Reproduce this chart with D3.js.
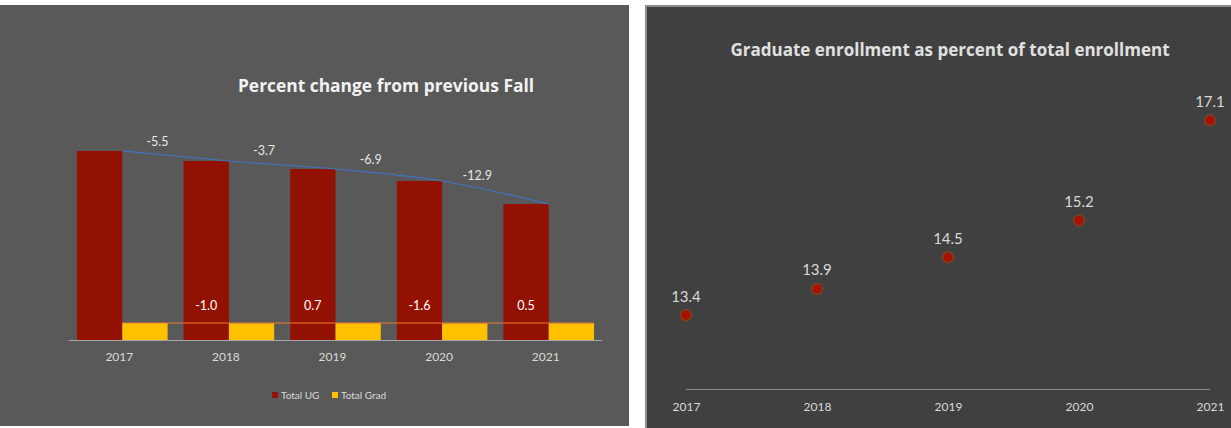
<!DOCTYPE html>
<html><head><meta charset="utf-8">
<script src="https://cdn.jsdelivr.net/npm/d3@7"></script>
<style>html,body{margin:0;padding:0;background:#fff;}svg{display:block;}</style>
</head><body>
<svg id="c" width="1231" height="428"></svg>
<script>
const years = ["2017","2018","2019","2020","2021"];
const ugTotals = [18900, 17900, 17100, 15900, 13600];
const gradTotals = [1700, 1683, 1695, 1668, 1676];
const ugChangeLabels = ["-5.5","-3.7","-6.9","-12.9"];
const gradChangeLabels = ["-1.0","0.7","-1.6","0.5"];
const gradShare = [13.4, 13.9, 14.5, 15.2, 17.1];
const seriesNames = ["Total UG","Total Grad"];

const FONT = "Lato, 'Open Sans', sans-serif";
const TFONT = "'Open Sans', Lato, sans-serif";
const svg = d3.select("#c");

// ---------- Left panel ----------
svg.append("rect").attr("x",0).attr("y",5).attr("width",629).attr("height",421).attr("fill","#595959");
const L = svg.append("g");
L.append("text").attr("x",386).attr("y",92).attr("text-anchor","middle")
  .attr("font-family",TFONT).attr("font-weight","bold").attr("font-size",17.4).attr("fill","#f2f2f2")
  .text("Percent change from previous Fall");

const x0 = d3.scaleBand().domain(years).range([69,602]).paddingInner(0.15).paddingOuter(0.075);
const x1 = d3.scaleBand().domain(seriesNames).range([0,x0.bandwidth()]);
const yL = d3.scaleLinear().domain([0,20000]).range([340,140]);
const colors = {"Total UG":"#931100","Total Grad":"#ffc000"};

const groups = L.selectAll("g.grp").data(years).join("g").attr("transform",d=>`translate(${x0(d)},0)`);
groups.append("rect").attr("x",x1("Total UG")).attr("width",x1.bandwidth())
  .attr("y",(d,i)=>yL(ugTotals[i])).attr("height",(d,i)=>yL(0)-yL(ugTotals[i])).attr("fill",colors["Total UG"]);
groups.append("rect").attr("x",x1("Total Grad")).attr("width",x1.bandwidth())
  .attr("y",(d,i)=>yL(gradTotals[i])).attr("height",(d,i)=>yL(0)-yL(gradTotals[i])).attr("fill",colors["Total Grad"]);

// axis
const axL = L.append("g").attr("transform","translate(0,340)").call(d3.axisBottom(x0).tickSize(0).tickPadding(12));
axL.select(".domain").attr("stroke","#a6a6a6").attr("d","M69,0.5H602");
axL.selectAll("text").attr("font-family",FONT).attr("font-size",12).attr("fill","#d9d9d9").attr("dx",-3);

// blue trend line through UG bar top-right corners
const ugPts = years.map((d,i)=>[x0(d)+x1("Total Grad"), yL(ugTotals[i])]);
L.append("path").attr("d",d3.line().curve(d3.curveMonotoneX)(ugPts)).attr("fill","none").attr("stroke","#4472c4").attr("stroke-width",1.2);

// orange line across grad bar tops
const gPts = years.map((d,i)=>[x0(d)+x1("Total Grad"), yL(gradTotals[i])]);
gPts.push([x0(years[4])+x0.bandwidth(), yL(gradTotals[4])]);
L.append("path").attr("d",d3.line()(gPts.map(p=>[p[0],yL(1700)]))).attr("fill","none").attr("stroke","#ed7d31").attr("stroke-width",1);

// UG change labels
ugChangeLabels.forEach((t,i)=>{
  const f = 0.33;
  const xa = x0(years[i])+x1("Total Grad"), xb = x0(years[i+1])+x1("Total Grad");
  const v = ugTotals[i] + (ugTotals[i+1]-ugTotals[i])*f;
  L.append("text").attr("x",xa+(xb-xa)*f).attr("y",yL(v)-13).attr("text-anchor","middle").attr("dy","0.35em")
    .attr("font-family",FONT).attr("font-size",12.5).attr("fill","#e6e6e6").text(t);
});
// grad change labels in red bars
gradChangeLabels.forEach((t,i)=>{
  L.append("text").attr("x",x0(years[i+1])+x1("Total UG")+x1.bandwidth()/2).attr("y",306).attr("dy","0.35em")
    .attr("text-anchor","middle").attr("font-family",FONT).attr("font-size",12.5).attr("fill","#ffffff").text(t);
});

// legend
const leg = L.append("g").attr("transform","translate(272,395)");
const legX = [0, 60];
seriesNames.forEach((s,i)=>{
  leg.append("rect").attr("x",legX[i]).attr("y",-3).attr("width",6).attr("height",6).attr("fill",colors[s]);
  leg.append("text").attr("x",legX[i]+9).attr("y",0).attr("dy","0.35em").attr("font-family",FONT).attr("font-size",10).attr("fill","#d9d9d9").text(s);
});

// ---------- Right panel ----------
svg.append("rect").attr("x",645).attr("y",5).attr("width",586).attr("height",423).attr("fill","#404040");
svg.append("path").attr("d","M646,428V6H1231").attr("fill","none").attr("stroke","#8c8c8c").attr("stroke-width",2);
const R = svg.append("g");
R.append("text").attr("x",950).attr("y",56).attr("text-anchor","middle")
  .attr("font-family",TFONT).attr("font-weight","bold").attr("font-size",17).attr("fill","#e0e0e0")
  .text("Graduate enrollment as percent of total enrollment");

const xR = d3.scalePoint().domain(years).range([686,1210]);
const yR = d3.scaleLinear().domain([12,18]).range([389,73]);
const axR = R.append("g").attr("transform","translate(0,389)").call(d3.axisBottom(xR).tickSize(0).tickPadding(13));
axR.select(".domain").attr("stroke","#8c8c8c").attr("d","M686,0.5H1210");
axR.selectAll("text").attr("font-family",FONT).attr("font-size",12).attr("fill","#d9d9d9");

R.selectAll("circle.halo").data(gradShare).join("circle").attr("class","halo")
  .attr("cx",(d,i)=>xR(years[i])).attr("cy",d=>yR(d)).attr("r",6.3).attr("fill","#80401f").attr("opacity",0.9);
R.selectAll("circle.dot").data(gradShare).join("circle").attr("class","dot")
  .attr("cx",(d,i)=>xR(years[i])).attr("cy",d=>yR(d)).attr("r",4.5).attr("fill","#a81000");
R.selectAll("text.lbl").data(gradShare).join("text").attr("class","lbl")
  .attr("x",(d,i)=>xR(years[i])).attr("y",d=>yR(d)-19).attr("dy","0.35em").attr("text-anchor","middle")
  .attr("font-family",FONT).attr("font-size",15).attr("fill","#d9d9d9").text(d=>d.toFixed(1));
</script>
</body></html>
